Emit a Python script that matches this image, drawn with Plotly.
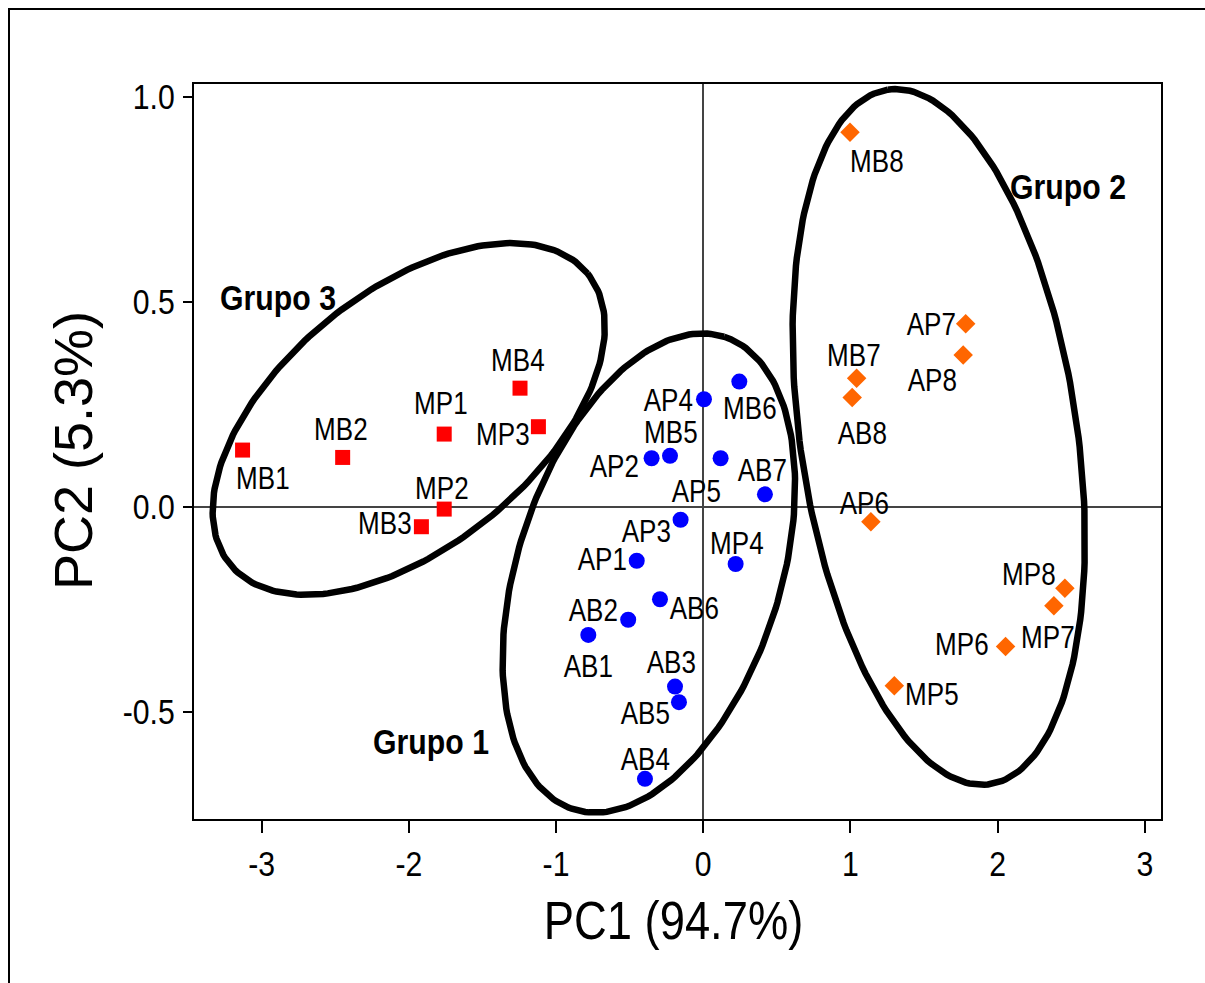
import numpy as np
import plotly.graph_objects as go

# ---- PCA scores (PC1, PC2) ----
g3_names = ["MB1", "MB2", "MP1", "MB4", "MP3", "MP2", "MB3"]
g3_pc1 = [-3.13, -2.45, -1.76, -1.245, -1.12, -1.76, -1.915]
g3_pc2 = [0.138, 0.120, 0.177, 0.289, 0.195, -0.006, -0.049]

g1_names = ["AP4", "MB6", "MB5", "AP2", "AP5", "AB7", "AP3", "AP1", "MP4",
            "AB6", "AB2", "AB1", "AB3", "AB5", "AB4"]
g1_pc1 = [0.005, 0.245, -0.226, -0.351, 0.118, 0.419, -0.154, -0.452, 0.220,
          -0.294, -0.510, -0.781, -0.192, -0.165, -0.396]
g1_pc2 = [0.262, 0.305, 0.124, 0.118, 0.118, 0.030, -0.032, -0.132, -0.140,
          -0.226, -0.276, -0.313, -0.439, -0.477, -0.664]

g2_names = ["MB8", "AP7", "AP8", "MB7", "AB8", "AP6", "MP8", "MP7", "MP6", "MP5"]
g2_pc1 = [0.997, 1.783, 1.766, 1.042, 1.012, 1.139, 2.457, 2.382, 2.054, 1.298]
g2_pc2 = [0.913, 0.446, 0.370, 0.313, 0.266, -0.037, -0.199, -0.242, -0.341, -0.437]

x_ticks = [-3, -2, -1, 0, 1, 2, 3]
x_tick_text = ["-3", "-2", "-1", "0", "1", "2", "3"]
y_ticks = [-0.5, 0.0, 0.5, 1.0]
y_tick_text = ["-0.5", "0.0", "0.5", "1.0"]

# ---- layout geometry ----
W, H = 1205, 983
M_L, M_R, M_T, M_B = 194, 44, 84, 164
X_RANGE = [-3.46, 3.11]
Y_RANGE = [-0.762, 1.031]
SX = (W - M_L - M_R) / (X_RANGE[1] - X_RANGE[0])   # px per PC1 unit
SY = (H - M_T - M_B) / (Y_RANGE[1] - Y_RANGE[0])   # px per PC2 unit

FONT = "Arial, Liberation Sans, sans-serif"
TEXT_SQUEEZE = 0.84      # horizontal condensing of horizontal text
ROT_TEXT_SQUEEZE = 1.0   # lengthwise scale of the rotated title

# label offsets in px (dx right, dy down) relative to each point
label_offsets = {
    "MB1": (20, 28), "MB2": (-2, -28), "MP1": (-3, -31), "MB4": (-2, -28),
    "MP3": (-35, 8), "MP2": (-2, -21), "MB3": (-36, -3),
    "AP4": (-35, 1), "MB6": (11, 27), "MB5": (1, -23), "AP2": (-37, 8),
    "AP5": (-24, 33), "AB7": (-2, -24), "AP3": (-34, 12), "AP1": (-34, -1),
    "MP4": (1, -21), "AB6": (35, 9), "AB2": (-35, -9), "AB1": (0, 32),
    "AB3": (-4, -24), "AB5": (-33, 11), "AB4": (1, -19),
    "MB8": (27, 29), "AP7": (-34, 1), "AP8": (-31, 26), "MB7": (-3, -23),
    "AB8": (10, 36), "AP6": (-6, -18), "MP8": (-36, -14), "MP7": (-6, 32),
    "MP6": (-44, -2), "MP5": (38, 9),
}


def ellipse(cx, cy, a_px, b_px, theta_deg, n=240):
    """Ellipse centred at (cx, cy) in data units with semi-axes given in px."""
    t = np.linspace(0, 2 * np.pi, n)
    th = np.deg2rad(theta_deg)
    dx = a_px * np.cos(t) * np.cos(th) - b_px * np.sin(t) * np.sin(th)
    dy = a_px * np.cos(t) * np.sin(th) + b_px * np.sin(t) * np.cos(th)
    return cx + dx / SX, cy + dy / SY


fig = go.Figure()

# group ellipses
for cx, cy, a, b, th in [(-2.001, 0.214, 230.5, 127.5, 39.1),
                         (-0.370, -0.162, 248.0, 131.6, 72.3),
                         (1.600, 0.170, 351.0, 138.5, 98.35)]:
    ex, ey = ellipse(cx, cy, a, b, th)
    fig.add_trace(go.Scatter(x=ex, y=ey, mode="lines",
                             line=dict(color="black", width=6.5),
                             hoverinfo="skip", showlegend=False))

# score markers
for names, xs, ys, sym, col, size in [
        (g3_names, g3_pc1, g3_pc2, "square", "#FF0000", 15),
        (g1_names, g1_pc1, g1_pc2, "circle", "#0000FF", 16),
        (g2_names, g2_pc1, g2_pc2, "diamond", "#FF6600", 15)]:
    fig.add_trace(go.Scatter(x=xs, y=ys, mode="markers", text=names,
                             marker=dict(symbol=sym, color=col, size=size,
                                         line=dict(width=0)),
                             showlegend=False))
    for n, xv, yv in zip(names, xs, ys):
        dx, dy = label_offsets[n]
        fig.add_annotation(x=xv, y=yv, text=n, showarrow=False,
                           xshift=dx, yshift=-dy,
                           xanchor="center", yanchor="middle",
                           font=dict(family=FONT, size=31, color="black"))

# group names
for txt, gx, gy in [("Grupo 3", -2.886, 0.511),
                    ("Grupo 2", 2.478, 0.782),
                    ("Grupo 1", -1.850, -0.574)]:
    fig.add_annotation(x=gx, y=gy, text="<b>%s</b>" % txt, showarrow=False,
                       xanchor="center", yanchor="middle",
                       font=dict(family=FONT, size=36, color="black"))

# axis titles
fig.add_annotation(xref="paper", yref="paper", x=(673 - M_L) / (W - M_L - M_R),
                   y=-(920 - (H - M_B)) / (H - M_T - M_B),
                   text="PC1 (94.7%)", showarrow=False,
                   xanchor="center", yanchor="middle",
                   font=dict(family=FONT, size=54, color="black"))
fig.add_annotation(xref="paper", yref="paper", x=-(M_L - 73) / (W - M_L - M_R),
                   y=((H - M_B) - 451) / (H - M_T - M_B),
                   text="PC2 (5.3%)", showarrow=False, textangle=-90,
                   xanchor="center", yanchor="middle",
                   font=dict(family=FONT, size=54, color="black"))

# outer frame
fig.add_shape(type="rect", xref="paper", yref="paper", layer="above",
              x0=-(M_L - 9) / (W - M_L - M_R), x1=1.2,
              y0=-0.4, y1=((H - M_B) - 9) / (H - M_T - M_B),
              line=dict(color="black", width=2))

axis_common = dict(showgrid=False, zeroline=True, zerolinecolor="#444444",
                   zerolinewidth=1.5, showline=True, linecolor="black",
                   linewidth=2, mirror=True, ticks="outside",
                   tickcolor="black", tickwidth=2,
                   tickfont=dict(family=FONT, size=36, color="black"))

fig.update_layout(
    width=W, height=H,
    margin=dict(l=M_L, r=M_R, t=M_T, b=M_B),
    paper_bgcolor="white", plot_bgcolor="white",
    xaxis=dict(range=X_RANGE, tickvals=x_ticks, ticktext=x_tick_text,
               ticklen=12, ticklabelstandoff=0, **axis_common),
    yaxis=dict(range=Y_RANGE, tickvals=y_ticks, ticktext=y_tick_text,
               ticklen=9, ticklabelstandoff=1, **axis_common),
)

# condense every text element along its baseline, about its anchor point
squeeze_js = """
var gd = document.getElementById('{plot_id}');
gd.querySelectorAll('svg text').forEach(function (t) {
    if (!t.textContent) return;
    var m = t.getScreenCTM();
    var rotated = m && Math.abs(m.b) > 0.5;
    var s = rotated ? %s : %s;
    var bb = t.getBBox();
    var anchor = t.getAttribute('text-anchor') || 'start';
    var ax = anchor === 'middle' ? bb.x + bb.width / 2 :
             (anchor === 'end' ? bb.x + bb.width : bb.x);
    var tr = t.getAttribute('transform') || '';
    t.setAttribute('transform', tr + ' translate(' + ax + ',0) scale(' + s + ',1) translate(' + (-ax) + ',0)');
});
""" % (ROT_TEXT_SQUEEZE, TEXT_SQUEEZE)

fig.write_html("out.html", post_script=squeeze_js)
